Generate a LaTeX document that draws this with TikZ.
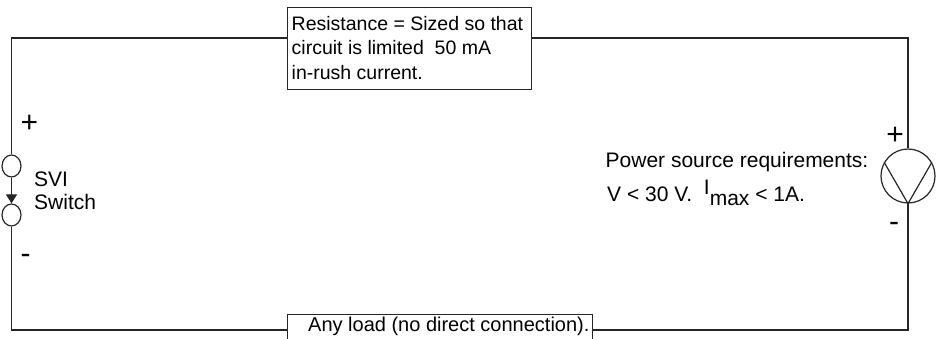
\documentclass[tikz,border=0pt]{standalone}
\usepackage{fontspec}
\setmainfont{Liberation Sans}
\usetikzlibrary{arrows.meta,shapes.geometric}
\begin{document}
\begin{tikzpicture}[x=1pt,y=-1pt,
  wire/.style={line width=1.4pt, black!85},
  box/.style={draw, line width=1.2pt, black!85, inner sep=0pt},
  txt/.style={anchor=base west, inner sep=0pt, font=\fontsize{19.5}{24}\selectfont},
  txtl/.style={anchor=base west, inner sep=0pt, font=\fontsize{20}{24}\selectfont},
  txtb/.style={anchor=base west, inner sep=0pt, font=\fontsize{21}{25}\selectfont},
  sign/.style={anchor=base, inner sep=0pt, font=\fontsize{30}{32}\selectfont},
  comp/.style={draw, line width=1.2pt, black!85, inner sep=0pt}]
\useasboundingbox (0,0) rectangle (942,339);
\clip (0,0) rectangle (942,339);

% boxes
\node[box, anchor=north west, minimum width=244pt, minimum height=82pt] (res) at (287,7) {};
\node[box, anchor=north west, minimum width=305pt, minimum height=40pt] (load) at (287,314) {};

% switch contacts
\node[comp, ellipse, minimum width=19pt, minimum height=22pt] (sw1) at (11.5,166) {};
\node[comp, ellipse, minimum width=19pt, minimum height=22pt] (sw2) at (11.5,215) {};

% power source
\node[comp, circle, minimum size=54pt] (src) at (908,176) {};
\draw[comp] (src.150) -- (src.south) -- (src.30);

% wire corners
\coordinate (tl) at (11.5,38);
\coordinate (tr) at (908,38);
\coordinate (br) at (908,330);
\coordinate (bl) at (11.5,330);

\draw[wire] (sw1.north) -- (tl) -- (res.west |- tl);
\draw[wire] (res.east |- tl) -- (tr) -- (src.north);
\draw[wire] (src.south) -- (br) -- (load.east |- br);
\draw[wire] (load.west |- br) -- (bl) -- (sw2.south);
\draw[comp, -{Triangle[width=11pt,length=9pt]}] (sw1.south) -- (sw2.north);

% texts
\node[txt] (r1) at (291.5,30.5) {Resistance = Sized so that};
\node[txt] (r2) at (291.5,55) {circuit is limited\ \ 50 mA};
\node[txt] (r3) at (291.5,80) {in-rush current.};
\node[txtl] (ld) at (308,331.5) {Any load (no direct connection).};
\node[txtb] (svi) at (34,187) {SVI};
\node[txtb] (swt) at (34,210) {Switch};
\node[txtb] (p1) at (605.5,168) {Power source requirements:};
\node[txtb] (p2) at (607,202) {V < 30 V.\ \ \raisebox{7pt}{I}\raisebox{-3pt}{max} < 1A.};

% polarity signs
\node[sign] (lp) at (29.5,133) {+};
\node[sign] (lm) at (25.5,263.5) {-};
\node[sign] (rp) at (895,145) {+};
\node[sign] (rm) at (894,232) {-};
\end{tikzpicture}
\end{document}
